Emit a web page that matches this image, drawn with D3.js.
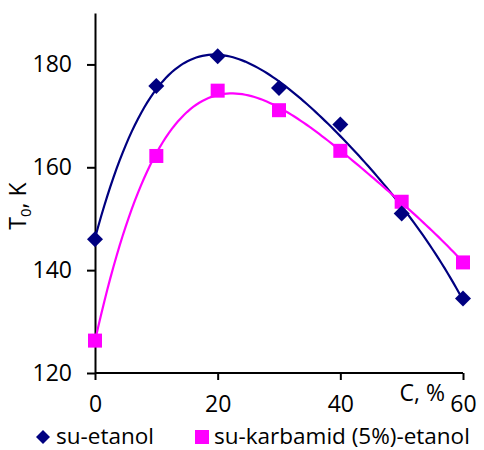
<!DOCTYPE html>
<html>
<head>
<meta charset="utf-8">
<script src="https://cdn.jsdelivr.net/npm/d3@7"></script>
<style>
  body { margin: 0; background: #fff; }
  text { font-family: "Open Sans", sans-serif; fill: #000; }
</style>
</head>
<body>
<script>
// concentration, %
var conc = [0, 10, 20, 30, 40, 50, 60];
// T0, K
var suEtanol = [146.0, 175.8, 181.6, 175.4, 168.3, 151.0, 134.5];
var suKarbamid = [126.3, 162.2, 174.9, 171.1, 163.2, 153.3, 141.5];
var seriesNames = ["su-etanol", "su-karbamid (5%)-etanol"];
var xTicks = [0, 20, 40, 60];
var yTicks = [120, 140, 160, 180];

var width = 484, height = 450;
var mLeft = 95, mRight = 463, mTop = 13, mBottom = 373;
var fs = "23px";

var navy = "#000080", magenta = "#ff00ff";

var svg = d3.select("body").append("svg")
  .attr("width", width)
  .attr("height", height);

var x = d3.scaleLinear().domain([0, 60]).range([mLeft, mRight]);
var y = d3.scaleLinear().domain([120, 190]).range([mBottom, mTop]);

//least squares polynomial trend line (like the Excel one)
function polyfit(xs, ys, order) {
  var n = order + 1;
  var A = [], b = [];
  for (var i = 0; i < n; i++) {
    A.push([]);
    for (var j = 0; j < n; j++) {
      A[i].push(d3.sum(xs, function (v) { return Math.pow(v, i + j); }));
    }
    b.push(d3.sum(xs, function (v, k) { return ys[k] * Math.pow(v, i); }));
  }
  for (var c = 0; c < n; c++) {
    for (var r = c + 1; r < n; r++) {
      var f = A[r][c] / A[c][c];
      for (var k = c; k < n; k++) A[r][k] -= f * A[c][k];
      b[r] -= f * b[c];
    }
  }
  var coef = new Array(n);
  for (var r2 = n - 1; r2 >= 0; r2--) {
    var s = b[r2];
    for (var k2 = r2 + 1; k2 < n; k2++) s -= A[r2][k2] * coef[k2];
    coef[r2] = s / A[r2][r2];
  }
  return function (v) {
    return d3.sum(coef, function (cf, p) { return cf * Math.pow(v, p); });
  };
}

var line = d3.line()
  .x(function (d) { return x(d[0]); })
  .y(function (d) { return y(d[1]); });

function trend(vals) {
  var f = polyfit(conc, vals, 4);
  return d3.range(0, 60.01, 0.5).map(function (v) { return [v, f(v)]; });
}

//axes
var yAxis = svg.append("g")
  .attr("transform", "translate(" + mLeft + ",0)")
  .call(d3.axisLeft(y).tickValues(yTicks).tickSize(8).tickSizeOuter(0).tickPadding(15));

var xAxis = svg.append("g")
  .attr("transform", "translate(0," + mBottom + ")")
  .call(d3.axisBottom(x).tickValues(xTicks).tickSize(7).tickSizeOuter(0).tickPadding(16));

[yAxis, xAxis].forEach(function (g) {
  g.selectAll("path, line").attr("stroke", "#000").attr("stroke-width", 2);
  g.selectAll("text").style("font-size", fs).attr("font-family", null);
});
xAxis.select(".domain").attr("d", "M" + mLeft + ",0H" + mRight);

//trend lines
svg.append("path").datum(trend(suEtanol))
  .attr("d", line).attr("fill", "none").attr("stroke", navy).attr("stroke-width", 2.2);
svg.append("path").datum(trend(suKarbamid))
  .attr("d", line).attr("fill", "none").attr("stroke", magenta).attr("stroke-width", 2.2);

//markers
svg.selectAll(".sq").data(suKarbamid).enter().append("rect")
  .attr("x", function (d, i) { return x(conc[i]) - 7; })
  .attr("y", function (d) { return y(d) - 7; })
  .attr("width", 14).attr("height", 14)
  .attr("fill", magenta);

svg.selectAll(".dm").data(suEtanol).enter().append("path")
  .attr("d", "M0,-8L8,0L0,8L-8,0Z")
  .attr("transform", function (d, i) { return "translate(" + x(conc[i]) + "," + y(d) + ")"; })
  .attr("fill", navy);

//axis titles
svg.append("text")
  .attr("x", 445).attr("y", 401)
  .attr("text-anchor", "end")
  .style("font-size", fs)
  .text("C, %");

var yt = svg.append("text")
  .attr("transform", "translate(26,206) rotate(-90)")
  .attr("text-anchor", "middle")
  .style("font-size", fs);
yt.append("tspan").text("T");
yt.append("tspan").attr("dy", 5).style("font-size", "15px").text("0");
yt.append("tspan").attr("dy", -5).text(", K");

//legend
svg.append("path")
  .attr("d", "M0,-7L7,0L0,7L-7,0Z")
  .attr("transform", "translate(43,437)")
  .attr("fill", navy);
svg.append("text").attr("x", 56).attr("y", 444)
  .style("font-size", "22.5px").text(seriesNames[0]);

svg.append("rect")
  .attr("x", 195).attr("y", 430).attr("width", 14).attr("height", 14)
  .attr("fill", magenta);
svg.append("text").attr("x", 214).attr("y", 444)
  .style("font-size", "22.5px").text(seriesNames[1]);
</script>
</body>
</html>
